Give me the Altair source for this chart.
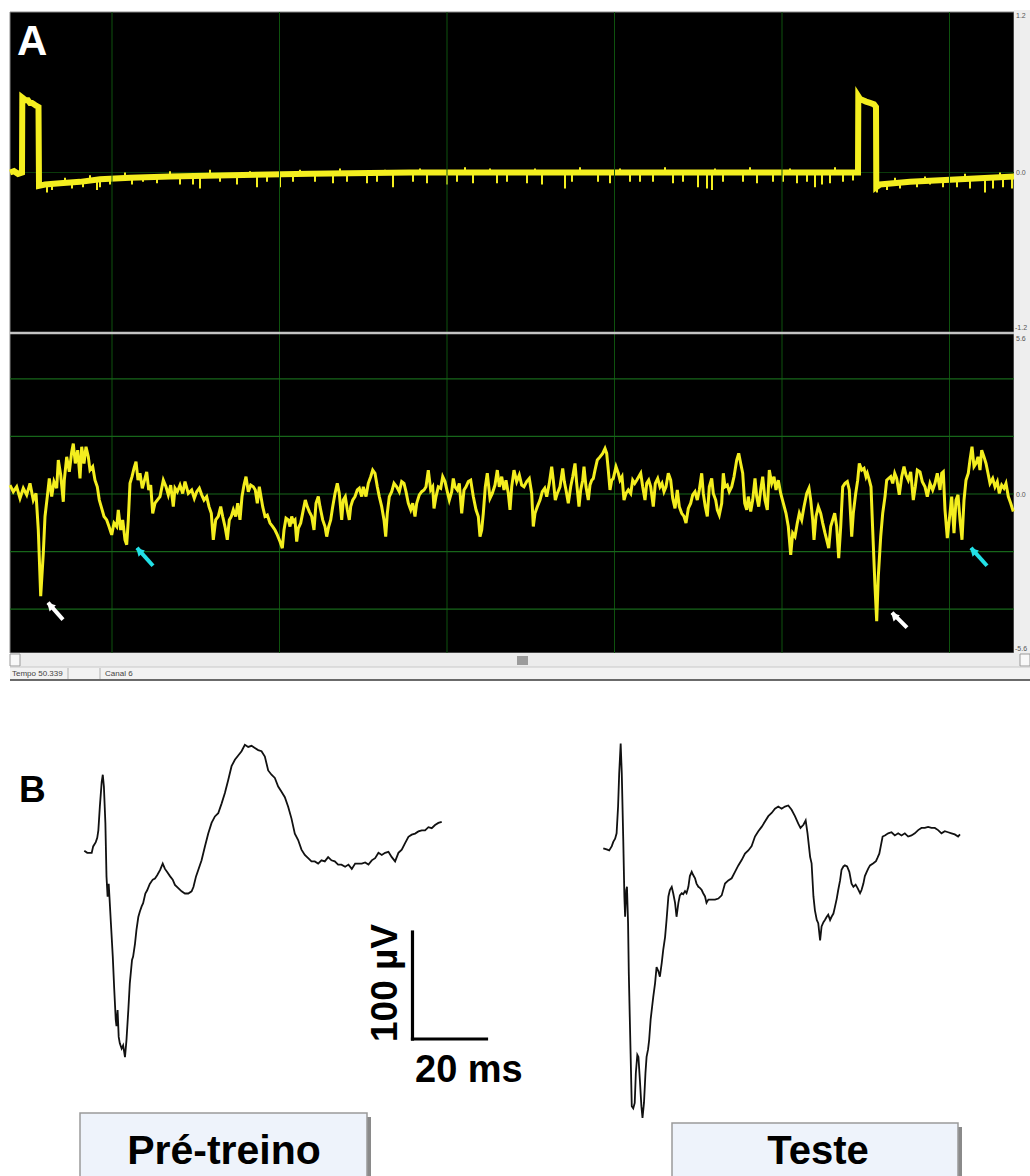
import altair as alt
import pandas as pd

W, H = 1030, 1176
FONT = "Liberation Sans"
YELLOW = "#f4ee1f"
GRID_V = "#0e520e"
GRID_H = "#17661a"

# ---------------- Panel A : stimulus channel (mV) ----------------
top_pairs = [
    (0, 0.0), (4, 0.01), (8, -0.01), (12, 0.0), (12.3, 0.56), (14, 0.55), (16, 0.54),
    (18, 0.54), (20, 0.52), (22, 0.52), (24, 0.51), (26, 0.50), (28.5, 0.49), (29, -0.10),
    (35, -0.09), (50, -0.08), (70, -0.07), (90, -0.05), (120, -0.04), (160, -0.03),
    (220, -0.02), (300, -0.01), (400, 0.0), (600, 0.0), (848, 0.0), (848.3, 0.57),
    (850, 0.55), (853, 0.54), (856, 0.53), (860, 0.52), (864, 0.51), (866, 0.49),
    (866.3, -0.11), (870, -0.09), (900, -0.07), (950, -0.05), (1004, -0.03),
]
# downward noise spikes of the stimulus channel: (t, base, tip)
spike_rows = [
    (37, -0.08, -0.15), (42, -0.08, -0.13), (62, -0.07, -0.12), (73, -0.07, -0.11),
    (87, -0.06, -0.13), (90, -0.05, -0.11), (100, -0.05, -0.09), (122, -0.04, -0.09),
    (133, -0.04, -0.07), (147, -0.04, -0.08), (170, -0.03, -0.09), (183, -0.03, -0.09),
    (190, -0.03, -0.12), (210, -0.02, -0.07), (227, -0.02, -0.09), (247, -0.02, -0.11),
    (257, -0.02, -0.07), (270, -0.02, -0.11), (283, -0.01, -0.07), (305, -0.01, -0.07),
    (323, -0.01, -0.08), (337, -0.01, -0.07), (357, -0.01, -0.08), (367, -0.01, -0.07),
    (383, -0.01, -0.11), (403, 0.0, -0.07), (417, 0.0, -0.08), (437, 0.0, -0.09),
    (447, 0.0, -0.07), (463, 0.0, -0.08), (487, 0.0, -0.08), (497, 0.0, -0.07),
    (517, 0.0, -0.08), (532, 0.0, -0.09), (555, 0.0, -0.12), (562, 0.0, -0.07),
    (588, 0.0, -0.07), (600, 0.0, -0.08), (620, 0.0, -0.07), (630, 0.0, -0.07),
    (643, 0.0, -0.07), (663, 0.0, -0.08), (673, 0.0, -0.07), (688, 0.0, -0.11),
    (697, 0.0, -0.12), (702, 0.0, -0.13), (713, 0.0, -0.07), (733, 0.0, -0.07),
    (747, 0.0, -0.08), (763, 0.0, -0.07), (773, 0.0, -0.07), (787, 0.0, -0.08),
    (797, 0.0, -0.07), (805, 0.0, -0.11), (812, 0.0, -0.09), (820, 0.0, -0.08),
    (833, 0.0, -0.07), (843, 0.0, -0.06), (867, -0.09, -0.15), (877, -0.08, -0.13),
    (890, -0.08, -0.12), (907, -0.07, -0.11), (920, -0.06, -0.09), (933, -0.06, -0.11),
    (947, -0.05, -0.11), (960, -0.05, -0.12), (975, -0.04, -0.15), (983, -0.04, -0.12),
    (993, -0.04, -0.11), (1002, -0.03, -0.12),
]
# small upward flicks on the stimulus channel band: (t, base, tip)
flick_rows = [
    (55, -0.08, -0.04), (80, -0.06, -0.02), (115, -0.04, 0.0), (160, -0.03, 0.01),
    (200, -0.02, 0.02), (240, -0.02, 0.01), (290, -0.01, 0.02), (330, -0.01, 0.03),
    (375, -0.01, 0.02), (410, 0.0, 0.03), (455, 0.0, 0.04), (480, 0.0, 0.03),
    (525, 0.0, 0.03), (570, 0.0, 0.04), (610, 0.0, 0.03), (655, 0.0, 0.04),
    (705, 0.0, 0.03), (740, 0.0, 0.04), (780, 0.0, 0.03), (825, 0.0, 0.04),
    (885, -0.08, -0.04), (915, -0.06, -0.03), (955, -0.05, -0.01), (990, -0.04, 0.0),
]

# ---------------- Panel A : recording channel (mV) ----------------
eeg_pairs = [
    (0, 0.31), (3.3, 0.08), (6.7, 0.25), (10, -0.15), (13.3, 0.20), (16.7, -0.03), (20, 0.37),
    (23.3, -0.21), (26, 0.02), (28.3, -1.25), (30.7, -3.55), (33.3, -2.05), (35, -0.78),
    (37.3, -0.09), (39.3, 0.54), (41.7, -0.09), (44, 0.43), (46.7, 0.20), (48.3, 1.18),
    (50.7, 0.66), (53.3, -0.27), (54.3, 0.48), (56.7, 1.29), (59.3, 0.77), (61.7, 1.46),
    (63.3, 1.75), (65.3, 1.06), (67.7, 1.52), (70, 0.54), (71.7, 1.64), (74, 1.06), (76, 1.64),
    (78.3, 1.29), (80, 0.83), (82.7, 0.95), (85, 0.48), (87.3, 0.25), (89.3, -0.21),
    (91.7, -0.50), (94, -0.78), (96.7, -0.90), (99, -1.13), (101.7, -1.42), (104, -1.01),
    (106.7, -1.13), (108.3, -0.55), (110.7, -1.25), (112.7, -0.90), (115, -1.59),
    (116.7, -1.76), (118.3, -0.90), (120, 0.37), (122, 0.60), (124, 0.89), (126, 1.12),
    (128, 0.48), (130, 0.72), (132.3, 0.20), (135, 0.54), (136.7, 0.77), (138.7, 0.14),
    (140.7, 0.31), (142.7, -0.67), (145, -0.32), (147.3, -0.21), (150, -0.09), (153.3, 0.48),
    (156, 0.25), (158.3, -0.03), (160.7, 0.31), (163.3, -0.44), (165, 0.20), (167.3, 0.08),
    (170, 0.31), (172.7, 0.02), (175, 0.43), (178.3, 0.02), (181.7, 0.14), (184.3, -0.15),
    (186.7, 0.08), (189.3, 0.20), (191.7, -0.03), (194, -0.21), (196.7, -0.09), (199, -0.44),
    (201.3, -0.67), (203.3, -1.59), (205.7, -0.90), (208.3, -0.78), (210.7, -0.44),
    (212.7, -0.78), (215, -1.13), (217.3, -1.59), (219.3, -0.90), (221.3, -0.78),
    (223.3, -0.55), (225.7, -0.78), (227.7, -0.32), (230, -0.90), (232, -0.09), (234, 0.31),
    (236, 0.60), (238.3, 0.08), (240.7, 0.31), (243.3, 0.25), (245.3, 0.14), (247.3, -0.32),
    (249.3, 0.25),
    (252.7, -0.44), (255, -0.78), (257.3, -0.73), (260, -1.01), (262.7, -1.13), (265, -1.25),
    (267.3, -1.42), (270, -1.65), (272.3, -1.88), (274, -1.25), (276, -0.84), (278.3, -0.90),
    (280, -1.13), (281.7, -0.78), (283.3, -0.96), (285, -0.90), (286.7, -1.65), (288.3, -1.19),
    (290.7, -1.01), (293.3, -0.55), (295.3, -0.21), (297.3, -0.44), (299.3, -0.61),
    (301.7, -0.78), (304, -1.25), (306, -0.32), (308.3, -0.09), (310, -0.44), (312.7, -0.90),
    (315, -1.13), (316.7, -1.48), (318.7, -1.13), (320.7, -0.90), (322.7, -0.44), (325, 0.02),
    (327.3, 0.37), (329.3, 0.02), (331.7, -0.90), (333.3, -0.21), (335.3, -0.09),
    (337.3, -0.55), (339.3, -0.90), (340.7, -0.44), (342.7, -0.21), (345, -0.09),
    (347.3, 0.14), (349.3, 0.20), (351.7, -0.09), (353.3, 0.25), (356, -0.09), (358.3, 0.37),
    (360.7, 0.60), (362.7, 0.83), (365, 0.72), (367.3, 0.25), (369.3, -0.09), (371.7, -0.44),
    (374, -0.90), (375.7, -1.48), (377.3, -0.67), (379.3, -0.09), (381.7, 0.08), (384, 0.37),
    (386.7, 0.25), (389.3, 0.08), (391.7, 0.43), (394, 0.37), (396, 0.08), (398.3, -0.32),
    (400.7, -0.55), (402.7, -0.32), (405, -0.78), (406.7, -0.32), (409.3, -0.03),
    (411.7, 0.08), (414, 0.14), (416, 0.25), (418.3, 0.83), (420.7, 0.14), (422.7, 0.25),
    (424, -0.50), (426, -0.09), (428.3, 0.25), (430.7, 0.20), (432.7, 0.60), (435, 0.43),
    (437.3, 0.08), (439.3, -0.21), (441.7, 0.08), (443.3, 0.54), (445, 0.25), (447.3, 0.14),
    (449.3, 0.37), (451.7, -0.67), (454, 0.14), (456, 0.25), (458.3, 0.43), (460.7, 0.48),
    (463.3, -0.09), (466, -0.55), (468.3, -0.78), (470, -1.48), (471.7, -1.25),
    (473.3, -0.67), (475.3, 0.25), (477.3, 0.72), (480, -0.15), (482.3, 0.02), (485, 0.31),
    (487.3, 0.83), (489.3, 0.25), (491.7, 0.60), (494, 0.14), (496, 0.48), (498.3, 0.02),
    (500, -0.55),
    (501.7, 0.25), (504, 0.83), (506.7, 0.43), (509.3, 0.66), (511.7, 0.31), (514, 0.25),
    (516.7, 0.43), (519.3, 0.54), (521.7, 0.02), (523.3, -1.13), (525, -0.67), (527.3, -0.44),
    (530, -0.21), (532.3, 0.08), (534.7, 0.20), (536.7, -0.09), (539.3, 0.37), (541.7, 0.95),
    (543.3, 0.48), (545.3, -0.21), (547.3, 0.02), (550, 0.25), (552.7, 0.89), (554.3, 0.43),
    (556, 0.14), (558.3, -0.32), (560.7, 0.25), (562.7, 0.60), (565, 1.06), (566.7, 0.37),
    (569, -0.44), (570.7, 0.14), (572.7, 0.48), (574, 0.95), (576, 0.25), (578.3, -0.21),
    (580, 0.31), (581.7, 0.48), (583.3, 0.54), (585, 0.83), (587.3, 1.18), (590, 1.29),
    (592.7, 1.41), (595, 1.58), (596.7, 1.41), (598.3, 0.83), (600, 0.14), (601.7, 0.48),
    (603.3, 0.54), (606, 0.95), (608.3, 0.72), (610, 0.48), (612, 0.60), (614, -0.21),
    (616, 0.02), (618.3, 0.14), (620.7, 0.02), (622.7, 0.48), (624.7, 0.37), (626.7, 0.48),
    (628.7, 0.60), (630.7, 0.72), (632.7, 0.25), (635, -0.21), (636.7, 0.37), (638.7, 0.48),
    (640.7, 0.25), (643.3, -0.44), (645.3, 0.37), (647.7, 0.54), (650, 0.25), (652, 0.37),
    (654, 0.08), (656, 0.25), (658.3, 0.72), (660.7, 0.48), (662.7, -0.15), (665, -0.50),
    (667.3, 0.14), (669.3, -0.44), (671.7, -0.67), (674, -0.78), (676, -1.01), (678.3, -0.50),
    (680.7, -0.32), (682.7, -0.03), (685, 0.08), (687.3, -0.21), (689.3, 0.14), (691.7, 0.72),
    (693.3, 0.02), (695.3, -0.44), (697.3, -0.78), (699.3, 0.25), (701.7, 0.54), (703.3, 0.02),
    (705.7, -0.21), (707.3, -0.55), (709.3, -0.73), (711.7, -0.32), (713.3, 0.72), (715, 0.25),
    (717.3, 0.31), (719.3, 0.08), (721.7, 0.25), (724, 0.60), (726.7, 1.18), (728.7, 1.41),
    (730.7, 1.06), (732.7, 0.72), (734.7, -0.32), (736.7, -0.55), (738.3, -0.09),
    (740.7, -0.61), (742.7, -0.21), (745, 0.54), (746.7, -0.09), (748.7, -0.44), (750.7, 0.14),
    (752.7, 0.60), (755, -0.21), (757.3, -0.55), (759.3, 0.83), (761.7, 0.37), (764, 0.60),
    (766, 0.14), (768.3, 0.48), (770.7, 0.02), (773.3, -0.32), (776, -0.67), (778.3, -1.13),
    (780.7, -2.11), (782.7, -1.36), (785, -1.48), (787.3, -1.01), (789.3, -0.67),
    (791.7, -0.90), (794, -0.44), (796.7, 0.02), (799, 0.20), (800.7, -0.21), (802.7, -0.90),
    (804, -1.59), (806, -0.78), (808.3, -0.44), (810.7, -0.67), (812.7, -1.01), (815, -1.36),
    (816.7, -1.59), (818.7, -1.88), (820.7, -1.13), (822.7, -0.90), (824.7, -0.67),
    (826.7, -1.13), (828.7, -2.23), (830.7, -1.13), (832.7, 0.25), (835, 0.37), (837.3, 0.43),
    (839.3, 0.14), (841.7, -1.48), (843.3, -0.67), (845.7, 0.02), (847.7, 0.48), (849.3, 1.06),
    (851.7, 0.83), (854, 0.89), (856, 0.60), (857.3, 0.72), (859.3, 0.48), (861, 0.25),
    (862.7, -1.25), (865, -3.21), (866.7, -4.42), (868.3, -2.86), (870.7, -1.48),
    (872.7, -0.67), (875, -0.09), (876.7, 0.48), (878.7, 0.54), (880.7, 0.60), (882.7, 0.37),
    (884.7, 0.72), (886.7, 0.54), (889.3, -0.03), (891.7, 0.60), (894, 0.95), (896, 0.66),
    (898.3, 0.48), (900.7, 0.77), (903.3, -0.21), (905.3, 0.25), (907.3, 0.83), (910, 0.77),
    (912.3, 0.43), (915, 0.25), (917.3, -0.09), (920, 0.37), (922.7, 0.14), (925, 0.37),
    (927.3, 0.72), (930, 0.14), (931.7, 0.72), (933.3, 0.77), (935, -0.55), (937.3, -1.53),
    (939.3, -0.90), (941.7, -0.09), (944, -1.36), (946, -0.21), (948, -0.03), (950, -0.90),
    (952, -1.59), (954, -0.21), (956, 0.48), (958.3, 0.72), (960, 1.18), (962, 1.64),
    (964, 0.95), (966, 1.06), (968, 1.29), (970, 0.83), (971.7, 1.52), (974, 1.29), (976, 1.06),
    (978, 0.72), (980, 0.37), (982.7, 0.54), (985, 0.25), (987.3, 0.43), (989.3, 0.02),
    (991.7, 0.31), (994, 0.20), (996, 0.37), (998.3, -0.09), (1000.7, -0.32), (1003.3, -0.61),
]

grid_t = [102, 269.5, 437, 604.5, 772, 939.5]
grid_v = [-4, -2, 0, 2, 4]

# arrows: tip (t, v), tail (t, v), colour
arrow_rows = [
    (38, -3.77, 53, -4.36, "#ffffff"),
    (127, -1.87, 143, -2.49, "#22e0e6"),
    (882, -4.12, 897, -4.64, "#ffffff"),
    (961, -1.87, 977, -2.49, "#22e0e6"),
]

# ---------------- Panel B : averaged responses (ms, µV) ----------------
pre_pairs = [
    (0.0, 0), (0.8, -2), (2.0, -2), (2.4, 4), (3.1, 8), (3.5, 12), (3.8, 19), (4.2, 41),
    (4.7, 64), (5.0, 71), (5.3, 60), (5.7, 26), (6.0, -24), (6.3, -43), (6.6, -31), (6.8, -43),
    (7.2, -68), (7.7, -99), (8.1, -130), (8.5, -158), (8.7, -164), (9.0, -149), (9.3, -174),
    (9.6, -180), (10.1, -185), (10.5, -182), (11.0, -193), (11.4, -177), (11.9, -149),
    (12.3, -124), (12.9, -102), (13.2, -99), (13.7, -87), (14.1, -74), (14.6, -62),
    (15.0, -57), (15.5, -52), (15.9, -49), (16.5, -40), (17.0, -37), (17.7, -31), (18.5, -27),
    (19.1, -26), (19.7, -23), (20.5, -18), (21.2, -12), (21.8, -17), (22.4, -20), (23.2, -24),
    (23.9, -27), (24.5, -32), (25.4, -35), (26.3, -38), (27.2, -40), (28.1, -40), (29.0, -38),
    (29.5, -34), (30.2, -24), (30.8, -18), (31.7, -9), (32.6, 4), (33.5, 16), (34.4, 26),
    (35.3, 32), (36.2, 35), (37.1, 44), (38.0, 54), (38.9, 66), (39.8, 79), (40.7, 85),
    (41.6, 89), (42.5, 93), (43.4, 99), (44.3, 97), (45.2, 98), (46.1, 96), (47.0, 94),
    (47.9, 93), (48.8, 88), (49.7, 75), (50.6, 71), (51.5, 68), (52.4, 60), (53.3, 55),
    (54.2, 50), (55.1, 41), (56.0, 30), (56.9, 16), (57.8, 10), (58.7, 1), (59.6, -4),
    (60.5, -7), (61.4, -10), (62.3, -10), (63.2, -12), (64.1, -9), (65.0, -10), (65.9, -6),
    (66.8, -9), (67.7, -10), (68.6, -13), (69.5, -13), (70.5, -15), (71.4, -13), (72.3, -17),
    (73.2, -12), (74.1, -12), (75.0, -12), (75.9, -11), (76.8, -13), (77.7, -9), (78.6, -7),
    (79.5, -2), (80.4, -4), (81.3, -2), (82.2, -1), (83.1, -6), (84.0, -10), (84.9, -2),
    (85.8, 1), (86.7, 7), (87.6, 13), (88.5, 15), (89.4, 16), (90.3, 18), (91.2, 19),
    (92.1, 19), (93.0, 22), (93.9, 21), (94.8, 24), (95.7, 26), (96.6, 27),
]
test_pairs = [
    (0.0, 0), (0.9, -1), (1.6, -2), (2.3, 2), (2.7, 6), (3.2, 9), (3.6, 14), (4.0, 39),
    (4.3, 70), (4.7, 98), (5.0, 70), (5.4, 8), (5.7, -45), (5.9, -64), (6.2, -39), (6.4, -36),
    (6.7, -70), (6.9, -117), (7.2, -164), (7.5, -210), (7.7, -241), (8.1, -243), (8.5, -238),
    (8.8, -210), (9.2, -193), (9.5, -195), (9.9, -217), (10.3, -241), (10.6, -252),
    (11.0, -238), (11.4, -210), (11.7, -195), (12.1, -188), (12.4, -179), (12.8, -160),
    (13.2, -148), (13.5, -139), (14.0, -126), (14.4, -111), (14.9, -115), (15.3, -120),
    (15.8, -107), (16.2, -95), (16.7, -83), (17.1, -67), (17.6, -45), (18.0, -39), (18.5, -36),
    (18.9, -42), (19.4, -51), (19.8, -64), (20.3, -51), (20.7, -44), (21.2, -42), (21.6, -43),
    (22.1, -40), (22.5, -42), (23.0, -36), (23.4, -26), (23.9, -22), (24.3, -25), (24.8, -28),
    (25.2, -33), (25.7, -36), (26.1, -37), (26.6, -39), (27.0, -42), (27.5, -45), (27.9, -51),
    (28.4, -48), (29.3, -48), (30.2, -48), (31.1, -47), (32.0, -44), (32.9, -33), (33.8, -30),
    (34.7, -28), (35.6, -22), (36.5, -16), (37.4, -11), (38.3, -5), (39.2, -2), (40.1, 2),
    (41.0, 11), (41.9, 16), (42.8, 20), (43.7, 25), (44.6, 30), (45.5, 33), (46.4, 37),
    (47.3, 39), (48.2, 37), (49.1, 39), (50.0, 40), (50.9, 36), (51.8, 30), (52.7, 23),
    (53.3, 19), (54.1, 22), (54.7, 26), (55.2, 14), (55.9, -8), (56.3, -14), (56.8, -45),
    (57.2, -58), (57.7, -67), (58.1, -70), (58.6, -86), (59.0, -73), (59.5, -69), (59.9, -67),
    (60.4, -64), (60.8, -62), (61.3, -67), (61.7, -64), (62.2, -61), (62.6, -55), (63.1, -47),
    (63.5, -39), (64.0, -30), (64.4, -20), (64.9, -17), (65.3, -16), (65.9, -17), (66.5, -22),
    (67.1, -33), (67.6, -36), (68.2, -34), (68.7, -37), (69.4, -42), (69.8, -39), (70.3, -33),
    (70.7, -26), (71.2, -22), (71.6, -19), (72.1, -16), (73.0, -14), (73.7, -12), (74.1, -9),
    (74.6, -5), (75.0, 2), (75.5, 11), (76.1, 12), (77.0, 14), (77.9, 15), (78.8, 12),
    (79.7, 14), (80.6, 12), (81.5, 14), (82.4, 11), (83.3, 12), (84.2, 14), (85.1, 17),
    (86.0, 19), (86.9, 19), (87.8, 20), (88.7, 19), (89.6, 19), (90.5, 17), (91.4, 14),
    (92.3, 16), (93.2, 15), (94.1, 14), (95.0, 13), (95.9, 11), (96.4, 13),
]
# scale bar: 20 ms x 100 µV, anchored at (ms, µV) in the Pré-treino frame
SB_T, SB_V, SB_MS, SB_UV = 88.7, -176, 20, 100


def lin(lo, hi):
    return alt.Scale(domain=[lo, hi], nice=False, zero=False)


ONE = pd.DataFrame({"k": [0]})


def rect(x1, x2, y1, y2, **kw):
    return alt.Chart(ONE).mark_rect(**kw).encode(
        x=alt.value(x1), x2=alt.value(x2), y=alt.value(y1), y2=alt.value(y2))


def hrule(y, x1, x2, **kw):
    return alt.Chart(ONE).mark_rule(**kw).encode(
        x=alt.value(x1), x2=alt.value(x2), y=alt.value(y))


def vrule(x, y1, y2, **kw):
    return alt.Chart(ONE).mark_rule(**kw).encode(
        x=alt.value(x), y=alt.value(y1), y2=alt.value(y2))


def label(txt, x, y, **kw):
    kw.setdefault("baseline", "alphabetic")
    return alt.Chart(ONE).mark_text(text=txt, font=FONT, **kw).encode(
        x=alt.value(x), y=alt.value(y))


# ---------- background frame (oscilloscope window) ----------
bg = alt.layer(
    rect(10, 1014, 12, 653, fill="#000000", stroke="#8a8a8a", strokeWidth=1),
    rect(1014, 1030, 10, 653, fill="#eeeeee"),
    rect(10, 1030, 653, 667, fill="#ececec"),
    rect(517, 528, 656, 665, fill="#9c9c9c"),
    rect(10, 20, 654, 666, fill="#f8f8f8", stroke="#9a9a9a", strokeWidth=1),
    rect(1020, 1030, 654, 666, fill="#f8f8f8", stroke="#9a9a9a", strokeWidth=1),
    rect(10, 1030, 667, 680, fill="#f2f2f2"),
    hrule(667, 10, 1030, color="#c8c8c8", strokeWidth=1),
    hrule(680, 10, 1030, color="#3a3a3a", strokeWidth=1.5),
    vrule(68, 668, 679, color="#b0b0b0", strokeWidth=1),
    vrule(100, 668, 679, color="#b0b0b0", strokeWidth=1),
)

# ---------- panel A scales ----------
xA = lin(-10, 1020)
yA1 = lin(-7.50280, 1.28972)
yA2 = lin(-23.6806, 17.1528)

df_top = pd.DataFrame(top_pairs, columns=["t", "v"])
df_spk = pd.DataFrame(spike_rows, columns=["t", "base", "tip"])
df_flk = pd.DataFrame(flick_rows, columns=["t", "base", "tip"])
df_eeg = pd.DataFrame(eeg_pairs, columns=["t", "v"])
df_gt = pd.DataFrame({"t": grid_t})
df_gv = pd.DataFrame({"v": grid_v})
df_arr = pd.DataFrame(arrow_rows, columns=["t", "v", "t2", "v2", "c"])

gA1 = alt.layer(
    alt.Chart(pd.DataFrame({"v": [0.0]})).mark_rule(color="#0a3a0a", strokeWidth=1).encode(
        y=alt.Y("v:Q", scale=yA1, axis=None), x=alt.value(10), x2=alt.value(1014)),
    alt.Chart(df_top).mark_line(color=YELLOW, strokeWidth=6).encode(
        x=alt.X("t:Q", scale=xA, axis=None), y=alt.Y("v:Q", scale=yA1, axis=None)),
    alt.Chart(df_spk).mark_rule(color=YELLOW, strokeWidth=2).encode(
        x=alt.X("t:Q", scale=xA, axis=None), y=alt.Y("base:Q", scale=yA1, axis=None),
        y2="tip:Q"),
    alt.Chart(df_flk).mark_rule(color=YELLOW, strokeWidth=2).encode(
        x=alt.X("t:Q", scale=xA, axis=None), y=alt.Y("base:Q", scale=yA1, axis=None),
        y2="tip:Q"),
)

gA2 = alt.layer(
    alt.Chart(df_gt).mark_rule(color=GRID_V, strokeWidth=1).encode(
        x=alt.X("t:Q", scale=xA, axis=None), y=alt.value(12), y2=alt.value(653)),
    alt.Chart(df_gv).mark_rule(color=GRID_H, strokeWidth=1.2).encode(
        y=alt.Y("v:Q", scale=yA2, axis=None), x=alt.value(10), x2=alt.value(1014)),
    alt.Chart(df_eeg).mark_line(color=YELLOW, strokeWidth=3).encode(
        x=alt.X("t:Q", scale=xA, axis=None), y=alt.Y("v:Q", scale=yA2, axis=None)),
    alt.Chart(df_arr).mark_rule(strokeWidth=4).encode(
        x=alt.X("t:Q", scale=xA, axis=None), x2="t2:Q",
        y=alt.Y("v:Q", scale=yA2, axis=None), y2="v2:Q",
        color=alt.Color("c:N", scale=None)),
    alt.Chart(df_arr).mark_point(shape="triangle-up", filled=True, size=80, angle=315,
                                 opacity=1, xOffset=2, yOffset=3).encode(
        x=alt.X("t:Q", scale=xA, axis=None), y=alt.Y("v:Q", scale=yA2, axis=None),
        color=alt.Color("c:N", scale=None)),
)

# separator between the two channels (drawn over grid)
sep = hrule(333, 10, 1014, color="#c4c4c4", strokeWidth=2.5)

# ---------- panel B ----------
xB1 = lin(-22.78, 255.59)
yB1 = lin(-304.02, 795.05)
xB2 = lin(-163.05, 115.33)
yB2 = lin(-306.27, 792.80)

df_pre = pd.DataFrame(pre_pairs, columns=["t", "v"])
df_test = pd.DataFrame(test_pairs, columns=["t", "v"])
df_sb = pd.DataFrame({
    "t": [SB_T, SB_T], "t2": [SB_T, SB_T + SB_MS],
    "v": [SB_V, SB_V], "v2": [SB_V + SB_UV, SB_V],
})

gB1 = alt.layer(
    alt.Chart(df_pre).mark_line(color="#111111", strokeWidth=1.8).encode(
        x=alt.X("t:Q", scale=xB1, axis=None), y=alt.Y("v:Q", scale=yB1, axis=None)),
    alt.Chart(df_sb).mark_rule(color="#000000", strokeWidth=3.2, strokeCap="square").encode(
        x=alt.X("t:Q", scale=xB1, axis=None), x2="t2:Q",
        y=alt.Y("v:Q", scale=yB1, axis=None), y2="v2:Q"),
)

gB2 = alt.layer(
    alt.Chart(df_test).mark_line(color="#111111", strokeWidth=1.8).encode(
        x=alt.X("t:Q", scale=xB2, axis=None), y=alt.Y("v:Q", scale=yB2, axis=None)),
)

# ---------- foreground texts and label boxes ----------
small = dict(fontSize=7, color="#555555", align="left", baseline="middle")
fg = alt.layer(
    label("A", 17, 55, fontSize=42, fontWeight="bold", color="#ffffff", align="left"),
    label("1.2", 1016, 16, **small),
    label("0.0", 1016, 173, **small),
    label("-1.2", 1015, 328, **small),
    label("5.6", 1016, 339, **small),
    label("0.0", 1016, 495, **small),
    label("-5.6", 1015, 649, **small),
    label("Tempo 50.339", 12, 674, fontSize=8, color="#444444", align="left", baseline="middle"),
    label("Canal 6", 105, 674, fontSize=8, color="#444444", align="left", baseline="middle"),
    label("B", 19, 802, fontSize=37, fontWeight="bold", color="#000000", align="left"),
    label("100 µV", 397, 1042, fontSize=37, fontWeight="bold", color="#000000",
          align="left", angle=270),
    label("20 ms", 415, 1082, fontSize=38, fontWeight="bold", color="#000000", align="left"),
    rect(367, 371, 1117, 1180, fill="#8a8a8a"),
    rect(80, 367, 1113, 1180, fill="#eef3fb", stroke="#9a9a9a", strokeWidth=1.5),
    label("Pré-treino", 224, 1164, fontSize=41, fontWeight="bold", color="#000000",
          align="center"),
    rect(958, 962, 1127, 1180, fill="#8a8a8a"),
    rect(672, 958, 1123, 1180, fill="#eef3fb", stroke="#9a9a9a", strokeWidth=1.5),
    label("Teste", 818, 1164, fontSize=40, fontWeight="bold", color="#000000",
          align="center"),
)

chart = alt.layer(bg, gA1, gA2, sep, gB1, gB2, fg).resolve_scale(
    x="independent", y="independent"
).properties(
    width=W, height=H, padding=0, background="#ffffff",
    autosize=alt.AutoSizeParams(type="none"),
).configure_view(stroke=None)

chart.save("out.html", embed_options={"renderer": "svg", "actions": False})
